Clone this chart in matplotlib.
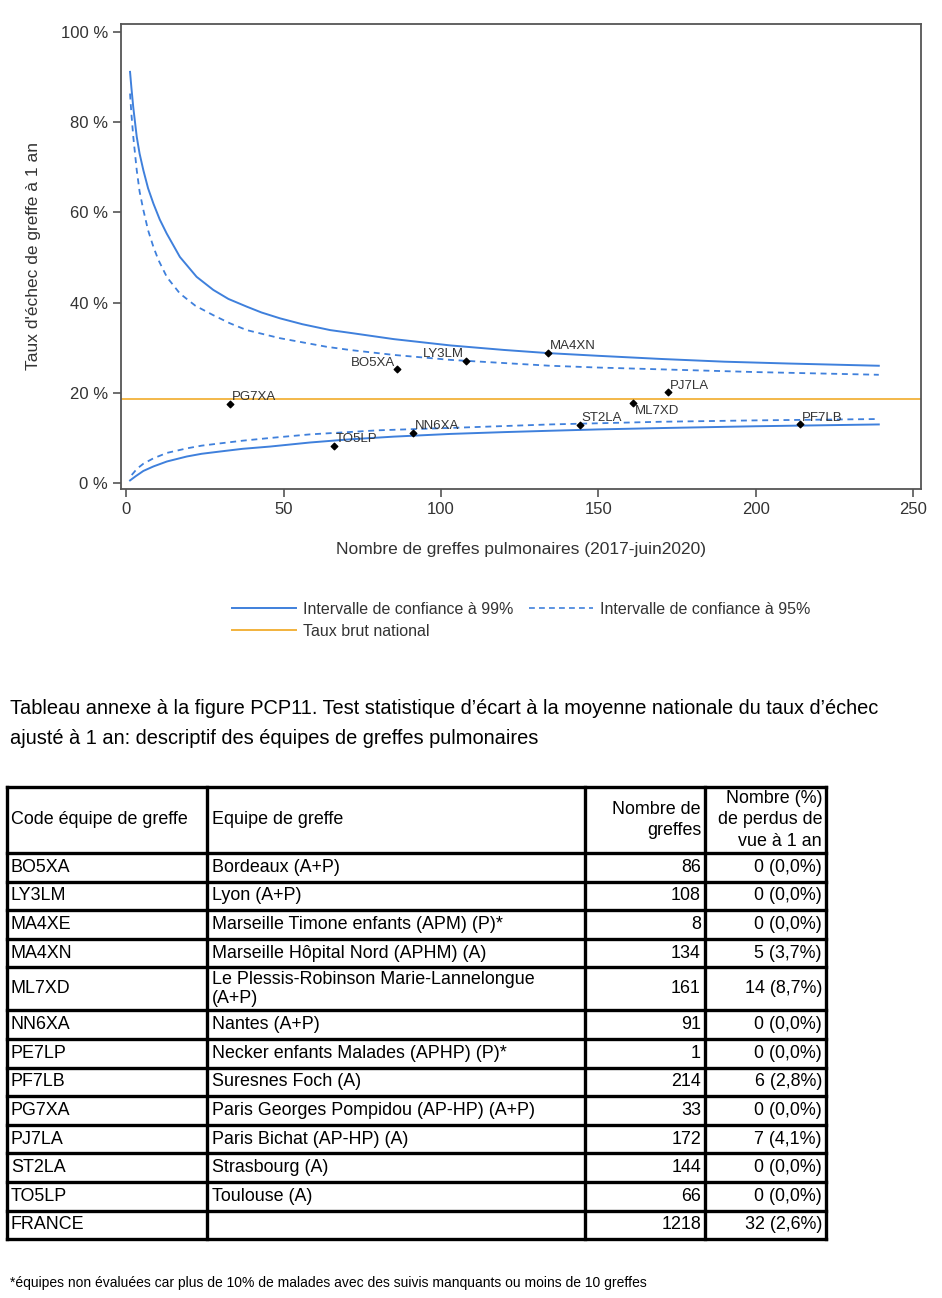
import matplotlib
matplotlib.use("Agg")
import matplotlib.pyplot as plt
from matplotlib.lines import Line2D

plt.rcParams['font.family'] = ['Liberation Sans', 'DejaVu Sans']

# ===== DATA =====
# taux brut national (%)
TAUX_NATIONAL = 18.65

# limites de controle du funnel plot
n_ic99_haut = [1.27, 1.7, 2.3, 3.4, 4.3, 5.5, 7, 8.7, 10.7, 12.9, 17.1, 22.4, 27.7, 32.5, 38.3, 43,
               48.9, 56, 64.8, 71, 85, 103, 120, 134, 150, 170, 190, 210, 239]
ic99_haut = [91.1, 87.6, 83.2, 76.7, 73.0, 69.3, 65.3, 61.9, 58.4, 55.3, 50.1, 45.7, 42.8, 40.8, 39.1, 37.8,
             36.5, 35.2, 33.9, 33.3, 31.9, 30.5, 29.5, 28.8, 28.2, 27.5, 26.9, 26.5, 26.0]

n_ic95_haut = [1.27, 1.7, 2.3, 3.4, 4.3, 5.5, 7, 8.7, 10.3, 13, 17.1, 22, 27.7, 33, 38.3, 48.9,
               63.7, 71, 85, 103, 120, 134.6, 150, 170, 200, 239]
ic95_haut = [86.3, 81.8, 76.7, 69.3, 64.6, 60.5, 56.0, 52.3, 49.4, 45.6, 42.0, 39.3, 37.2, 35.4, 33.9, 32.1,
             30.2, 29.5, 28.4, 27.3, 26.6, 26.0, 25.6, 25.2, 24.6, 24.0]

n_ic99_bas = [1.27, 3, 5.5, 8.7, 13, 19.3, 24, 29.8, 37, 45.7, 58.4, 71, 85, 103, 120,
              134.6, 150, 170, 200, 239]
ic99_bas = [0.6, 1.5, 2.7, 3.7, 4.8, 5.9, 6.5, 7.0, 7.6, 8.1, 9.0, 9.7, 10.3, 10.9, 11.3,
            11.6, 11.9, 12.2, 12.6, 13.0]

n_ic95_bas = [1.8, 3.5, 5.5, 8.7, 13, 19.3, 24, 29.8, 37, 45.7, 58.4, 80, 106, 134.6, 170, 200, 239]
ic95_bas = [1.8, 3.2, 4.3, 5.5, 6.7, 7.7, 8.3, 8.8, 9.4, 10.0, 10.8, 11.7, 12.3, 13.0, 13.6, 13.9, 14.2]

# equipes placees sur le graphique
pt_codes = ["PG7XA", "TO5LP", "BO5XA", "NN6XA", "LY3LM", "MA4XN", "ST2LA", "ML7XD", "PJ7LA", "PF7LB"]
pt_n = [33, 66, 86, 91, 108, 134, 144, 161, 172, 214]
pt_taux = [17.5, 8.3, 25.2, 11.1, 27.1, 28.8, 12.9, 17.7, 20.1, 13.0]

# tableau annexe
tab_codes = ["BO5XA", "LY3LM", "MA4XE", "MA4XN", "ML7XD", "NN6XA", "PE7LP", "PF7LB",
             "PG7XA", "PJ7LA", "ST2LA", "TO5LP", "FRANCE"]
tab_equipes = ["Bordeaux (A+P)", "Lyon (A+P)", "Marseille Timone enfants (APM) (P)*",
               "Marseille Hôpital Nord (APHM) (A)", "Le Plessis-Robinson Marie-Lannelongue\n(A+P)",
               "Nantes (A+P)", "Necker enfants Malades (APHP) (P)*", "Suresnes Foch (A)",
               "Paris Georges Pompidou (AP-HP) (A+P)", "Paris Bichat (AP-HP) (A)",
               "Strasbourg (A)", "Toulouse (A)", ""]
tab_greffes = [86, 108, 8, 134, 161, 91, 1, 214, 33, 172, 144, 66, 1218]
tab_perdus = ["0 (0,0%)", "0 (0,0%)", "0 (0,0%)", "5 (3,7%)", "14 (8,7%)", "0 (0,0%)", "0 (0,0%)",
              "6 (2,8%)", "0 (0,0%)", "7 (4,1%)", "0 (0,0%)", "0 (0,0%)", "32 (2,6%)"]
tab_entetes = ["Code équipe de greffe", "Equipe de greffe", "Nombre de\ngreffes",
               "Nombre (%)\nde perdus de\nvue à 1 an"]

# ===== STYLE =====
W, H = 942, 1298
BLUE = "#3F80DC"
ORANGE = "#F2B23C"
LABEL_POS = {"BO5XA": "left", "LY3LM": "left", "ML7XD": "below"}
COL_X = [7, 207, 585, 705, 826]
TAB_TOP = 787
HEAD_H = 66
ROW_H = 28.6
ROW_H2 = 43


def px_box(x0, y0, x1, y1):
    return [x0 / W, 1 - y1 / H, (x1 - x0) / W, (y1 - y0) / H]


fig = plt.figure(figsize=(W / 100, H / 100), dpi=100)

# ===== FUNNEL PLOT =====
ax = fig.add_axes(px_box(121, 24, 921, 489))
ax.plot(n_ic99_haut, ic99_haut, color=BLUE, lw=1.4)
ax.plot(n_ic99_bas, ic99_bas, color=BLUE, lw=1.4)
ax.plot(n_ic95_haut, ic95_haut, color=BLUE, lw=1.3, dashes=(3.3, 2.6))
ax.plot(n_ic95_bas, ic95_bas, color=BLUE, lw=1.3, dashes=(3.3, 2.6))
ax.axhline(TAUX_NATIONAL, color=ORANGE, lw=1.3)
ax.scatter(pt_n, pt_taux, marker="D", s=11, color="black", zorder=3)
for code, n, t in zip(pt_codes, pt_n, pt_taux):
    pos = LABEL_POS.get(code, "right")
    if pos == "left":
        ha, va, off = "right", "bottom", (-1.5, 0.5)
    elif pos == "below":
        ha, va, off = "left", "top", (1.5, -1)
    else:
        ha, va, off = "left", "bottom", (1.5, 0.5)
    ax.annotate(code, (n, t), xytext=off, textcoords="offset points",
                ha=ha, va=va, fontsize=9.5, color="#333333")

ax.set_xlim(-1.6, 252.4)
ax.set_ylim(-1.3, 101.7)
ax.set_xticks([0, 50, 100, 150, 200, 250])
ax.set_yticks([0, 20, 40, 60, 80, 100])
ax.set_yticklabels([f"{v} %" for v in [0, 20, 40, 60, 80, 100]])
for s in ax.spines.values():
    s.set_color("#555555")
    s.set_linewidth(1.3)
ax.tick_params(direction="out", length=5.5, width=1.2, color="#555555",
               labelsize=12, labelcolor="#333333", pad=4)
ax.set_xlabel("Nombre de greffes pulmonaires (2017-juin2020)", fontsize=12.5, color="#333333")
ax.set_ylabel("Taux d'échec de greffe à 1 an", fontsize=12.5, color="#333333")
ax.xaxis.set_label_coords(0.5, -0.115)
ax.yaxis.set_label_coords(-0.1, 0.5)

handles = [Line2D([], [], color=BLUE, lw=1.4),
           Line2D([], [], color=ORANGE, lw=1.4),
           Line2D([], [], color=BLUE, lw=1.2, dashes=(3.5, 2.5))]
labels = ["Intervalle de confiance à 99%", "Taux brut national", "Intervalle de confiance à 95%"]
fig.legend(handles, labels, ncol=2, loc="upper left", bbox_to_anchor=(232 / W, 1 - 602 / H),
           frameon=False, fontsize=11.5, handlelength=4.0, handletextpad=0.45,
           columnspacing=0.95, labelspacing=0.43, borderpad=0, borderaxespad=0,
           labelcolor="#333333")

# ===== TABLEAU =====
tx = fig.add_axes([0, 0, 1, 1])
tx.set_xlim(0, W)
tx.set_ylim(H, 0)
tx.axis("off")

tx.text(10, 708, "Tableau annexe à la figure PCP11. Test statistique d\u2019écart à la moyenne nationale du taux d\u2019échec",
        fontsize=14.4, va="center", ha="left")
tx.text(10, 738, "ajusté à 1 an: descriptif des équipes de greffes pulmonaires",
        fontsize=14.4, va="center", ha="left")

row_tops = [TAB_TOP, TAB_TOP + HEAD_H]
for eq in tab_equipes:
    row_tops.append(row_tops[-1] + (ROW_H2 if "\n" in eq else ROW_H))

for y in row_tops:
    tx.plot([COL_X[0], COL_X[-1]], [y, y], color="black", lw=2.4, solid_capstyle="projecting")
for x in COL_X:
    tx.plot([x, x], [row_tops[0], row_tops[-1]], color="black", lw=2.4, solid_capstyle="projecting")

FS = 12.9
yc = (row_tops[0] + row_tops[1]) / 2
tx.text(COL_X[0] + 4, yc, tab_entetes[0], fontsize=FS, va="center", ha="left")
tx.text(COL_X[1] + 5, yc, tab_entetes[1], fontsize=FS, va="center", ha="left")
tx.text(COL_X[3] - 4, yc, tab_entetes[2], fontsize=FS, va="center", ha="right", linespacing=1.35)
tx.text(COL_X[4] - 4, yc, tab_entetes[3], fontsize=FS, va="center", ha="right", linespacing=1.35)

for i, (code, eq, ng, pdv) in enumerate(zip(tab_codes, tab_equipes, tab_greffes, tab_perdus)):
    yc = (row_tops[i + 1] + row_tops[i + 2]) / 2
    tx.text(COL_X[0] + 4, yc, code, fontsize=FS, va="center", ha="left")
    tx.text(COL_X[1] + 5, yc, eq, fontsize=FS, va="center", ha="left", linespacing=1.2)
    tx.text(COL_X[3] - 4, yc, str(ng), fontsize=FS, va="center", ha="right")
    tx.text(COL_X[4] - 4, yc, pdv, fontsize=FS, va="center", ha="right")

tx.text(10, 1283, "*équipes non évaluées car plus de 10% de malades avec des suivis manquants ou moins de 10 greffes",
        fontsize=10, va="center", ha="left")

fig.savefig("out.png", dpi=100)
